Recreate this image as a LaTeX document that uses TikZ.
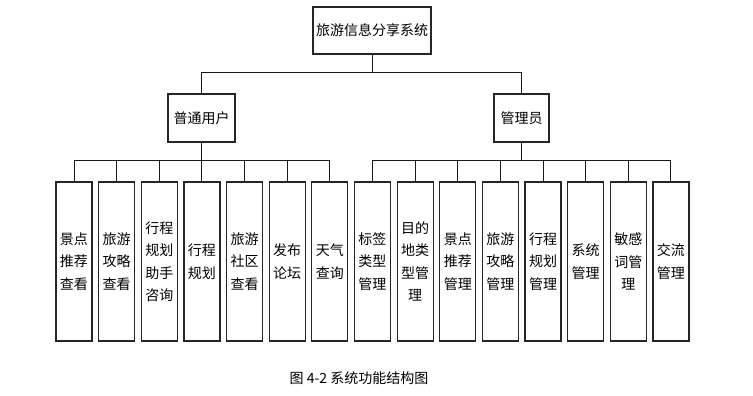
\documentclass[tikz,border=0pt]{standalone}
\usepackage{fontspec}
\setmainfont{Noto Sans CJK SC}
\begin{document}
\begin{tikzpicture}[x=1pt,y=-1pt,
  box/.style={draw=black!85,line width=1.2pt,rectangle,inner sep=0pt,align=center,
    font=\fontsize{14}{22.5}\selectfont},
  leaf/.style={box,minimum width=36pt,minimum height=159pt,text width=30pt},
  link/.style={draw=black!90,line width=1pt}]
\useasboundingbox (0,0) rectangle (753,396);
\node[box,minimum width=118pt,minimum height=47pt] (top) at (372,30.5) {旅游信息分享系统};
\node[box,minimum width=67pt,minimum height=48pt] (user) at (201.5,118) {普通用户};
\node[box,minimum width=55pt,minimum height=48pt] (admin) at (521.5,118) {管理员};
\foreach \i/\t in {0/{景点\\推荐\\查看},1/{旅游\\攻略\\查看},2/{行程\\规划\\助手\\咨询},3/{行程\\规划},4/{旅游\\社区\\查看},5/{发布\\论坛},6/{天气\\查询},
  7/{标签\\类型\\管理},8/{目的\\地类\\型管\\理},9/{景点\\推荐\\管理},10/{旅游\\攻略\\管理},11/{行程\\规划\\管理},12/{系统\\管理},13/{敏感\\词管\\理},14/{交流\\管理}}
  \node[leaf] (l\i) at ({74+42.64*\i},261.5) {\t};
\draw[link] (top.south) -- ++(0,18) -| (user.north);
\draw[link] (top.south) -- ++(0,18) -| (admin.north);
\foreach \i in {0,...,6}
  \draw[link] (user.south) -- ++(0,18) -| (l\i.north);
\foreach \i in {7,...,14}
  \draw[link] (admin.south) -- ++(0,18) -| (l\i.north);
\node[font=\fontsize{14}{16}\selectfont,inner sep=0pt] (cap) at (359,378) {图 4-2 系统功能结构图};
\end{tikzpicture}
\end{document}
